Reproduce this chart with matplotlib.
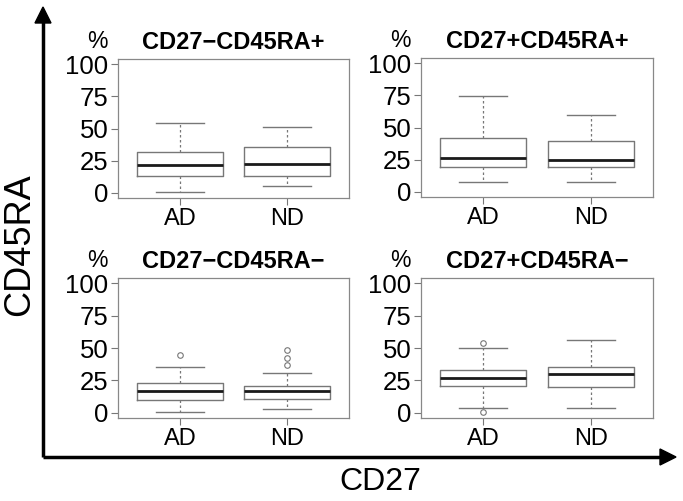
import numpy as np
import matplotlib
matplotlib.use('Agg')
import matplotlib.pyplot as plt

plt.rcParams['font.family'] = ['Liberation Sans', 'DejaVu Sans']

groups = ['AD', 'ND']
titles = ['CD27\u2212CD45RA+', 'CD27+CD45RA+', 'CD27\u2212CD45RA\u2212', 'CD27+CD45RA\u2212']

# per panel, per group: low whisker, Q1, median, Q3, high whisker
whislo = [[1, 5], [8, 8], [0.5, 3], [4, 4]]
q1 = [[13, 13], [19.3, 19.3], [10.1, 10.3], [21, 20]]
med = [[22, 22.5], [26, 25], [16.8, 16.8], [27, 30]]
q3 = [[31.5, 36], [42, 39.5], [23.3, 20.3], [33, 35.7]]
whishi = [[54.5, 51], [74.5, 60], [35, 31], [50, 56.5]]
outliers = [[[], []], [[], []], [[44.5], [36.5, 42.5, 48.5]], [[54, 0.5], []]]

yticks = [0, 25, 50, 75, 100]

W, H = 683, 501
fig = plt.figure(figsize=(W / 100, H / 100), dpi=100)

# panel boxes in pixels: left, top, right, bottom
boxes_px = [(118, 59, 349, 198), (421, 58, 653, 197),
            (118, 278, 349, 418), (421, 278, 653, 418)]

gray = '#777777'
for i, (l, t, r, b) in enumerate(boxes_px):
    ax = fig.add_axes([l / W, 1 - b / H, (r - l) / W, (b - t) / H])
    stats = []
    for j, g in enumerate(groups):
        stats.append(dict(label=g, whislo=whislo[i][j], q1=q1[i][j], med=med[i][j],
                          q3=q3[i][j], whishi=whishi[i][j], fliers=outliers[i][j]))
    ax.bxp(stats, positions=[1, 2], widths=0.8, capwidths=0.45,
           boxprops=dict(color=gray, linewidth=1.0),
           medianprops=dict(color='#1a1a1a', linewidth=2.0),
           whiskerprops=dict(color=gray, linewidth=0.9, linestyle=(0, (2, 2))),
           capprops=dict(color=gray, linewidth=1.0),
           flierprops=dict(marker='o', markersize=4, markerfacecolor='none',
                           markeredgecolor=gray, markeredgewidth=0.8))
    ax.set_xlim(0.42, 2.58)
    ax.set_ylim(-4, 104)
    ax.set_yticks(yticks)
    ax.set_yticklabels([str(v) for v in yticks], fontsize=18.5)
    ax.set_xticks([1, 2])
    ax.set_xticklabels(groups, fontsize=17)
    ax.tick_params(axis='both', colors=gray, length=5, width=0.8, labelcolor='black', pad=2)
    for sp in ax.spines.values():
        sp.set_color('#888888')
        sp.set_linewidth(0.9)
    ax.set_title(titles[i], fontsize=17, fontweight='bold', pad=7)
    ax.text(-0.09, 1.04, '%', transform=ax.transAxes, fontsize=16.5,
            ha='center', va='bottom')

# overlay for the big arrows and axis names
ov = fig.add_axes([0, 0, 1, 1], zorder=-1)
ov.set_xlim(0, W)
ov.set_ylim(H, 0)
ov.axis('off')
ov.plot([43, 43], [457, 22], color='black', lw=2.5, solid_capstyle='butt')
ov.plot([43, 661], [457, 457], color='black', lw=2.5, solid_capstyle='butt')
ov.fill([35, 51, 43], [23, 23, 7], color='black')
ov.fill([660, 660, 676], [449, 465, 457], color='black')
ov.text(380, 482, 'CD27', fontsize=23, ha='center', va='center')
ov.text(20, 245, 'CD45RA', fontsize=26, ha='center', va='center', rotation=90)

fig.savefig('out.png', dpi=100)
